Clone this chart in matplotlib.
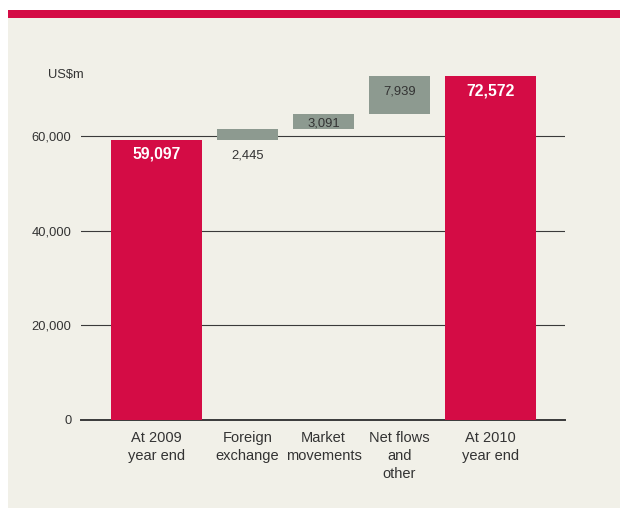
import matplotlib.pyplot as plt
import matplotlib.patches as mpatches
import matplotlib.ticker as mticker

categories = ['At 2009\nyear end', 'Foreign\nexchange', 'Market\nmovements', 'Net flows\nand\nother', 'At 2010\nyear end']
steps = [59097, 2445, 3091, 7939]
total_label = 72572
yticks = [0, 20000, 40000, 60000]

red = '#d40c45'
grey = '#8d9a90'
bg = '#f1f0e8'
txt = '#333333'

plt.rcParams['font.family'] = ['Liberation Sans', 'DejaVu Sans']

fig = plt.figure(figsize=(6.2, 5.08), dpi=100)
fig.patch.set_facecolor('white')
# beige panel + red band on top
fig.patches.append(mpatches.Rectangle((8 / 620, 0), 612 / 620, 1 - 18 / 508, transform=fig.transFigure,
                                      facecolor=bg, edgecolor='none', zorder=-5))
fig.patches.append(mpatches.Rectangle((8 / 620, 1 - 18 / 508), 612 / 620, 8 / 508, transform=fig.transFigure,
                                      facecolor=red, edgecolor='none', zorder=-5))

ax = fig.add_axes([81 / 620, 1 - 420 / 508, 484 / 620, 350.4 / 508])
ax.set_facecolor('none')

# bar widths in axis units (x axis is 0..484)
big_w = 91
small_w = 61
gap = 15
x = 30
lefts = []
widths = []
for i in range(len(categories)):
    w = big_w if i in (0, len(categories) - 1) else small_w
    lefts.append(x)
    widths.append(w)
    x += w + gap
centers = [l + w / 2 for l, w in zip(lefts, widths)]

# first total
ax.bar(centers[0], steps[0], width=widths[0], color=red, zorder=3)
running = steps[0]
for i, s in enumerate(steps[1:]):
    ax.bar(centers[i + 1], s, bottom=running, width=widths[i + 1], color=grey, zorder=3)
    running += s
ax.bar(centers[-1], running, width=widths[-1], color=red, zorder=3)

# value labels
ax.annotate('{:,}'.format(steps[0]), (centers[0], steps[0]), xytext=(0, -10), textcoords='offset points',
            ha='center', va='center', color='white', fontsize=11.3, fontweight='bold', zorder=4)
ax.annotate('{:,}'.format(steps[1]), (centers[1], steps[0] + steps[1]), xytext=(0, -19.5), textcoords='offset points',
            ha='center', va='center', color=txt, fontsize=9.4, zorder=4)
ax.annotate('{:,}'.format(steps[2]), (centers[2], steps[0] + steps[1] + steps[2] / 2), xytext=(0, -1.3),
            textcoords='offset points', ha='center', va='center', color=txt, fontsize=9.4, zorder=4)
ax.annotate('{:,}'.format(steps[3]), (centers[3], running), xytext=(0, -11), textcoords='offset points',
            ha='center', va='center', color=txt, fontsize=9.4, zorder=4)
ax.annotate('{:,}'.format(total_label), (centers[4], running), xytext=(0, -10.5), textcoords='offset points',
            ha='center', va='center', color='white', fontsize=11.3, fontweight='bold', zorder=4)

ax.set_xlim(0, 484)
ax.set_ylim(0, 74000)
ax.set_yticks(yticks)
ax.yaxis.set_major_formatter(mticker.FuncFormatter(lambda v, p: '{:,}'.format(int(v))))
ax.grid(axis='y', color='#3a3a3a', linewidth=0.8, zorder=1)
ax.axhline(0, color='#3a3a3a', linewidth=1.4, clip_on=False, zorder=2)
ax.set_axisbelow(True)
ax.set_xticks(centers)
ax.set_xticklabels(categories, linespacing=1.35)
ax.tick_params(axis='both', length=0, colors=txt)
ax.tick_params(axis='y', labelsize=9.3, pad=7)
ax.tick_params(axis='x', labelsize=10.5, pad=8)
for sp in ax.spines.values():
    sp.set_visible(False)

fig.text(48 / 620, 1 - 75 / 508, 'US$m', ha='left', va='center', fontsize=9.3, color=txt)

fig.savefig('out.png', dpi=100, facecolor=fig.get_facecolor())
